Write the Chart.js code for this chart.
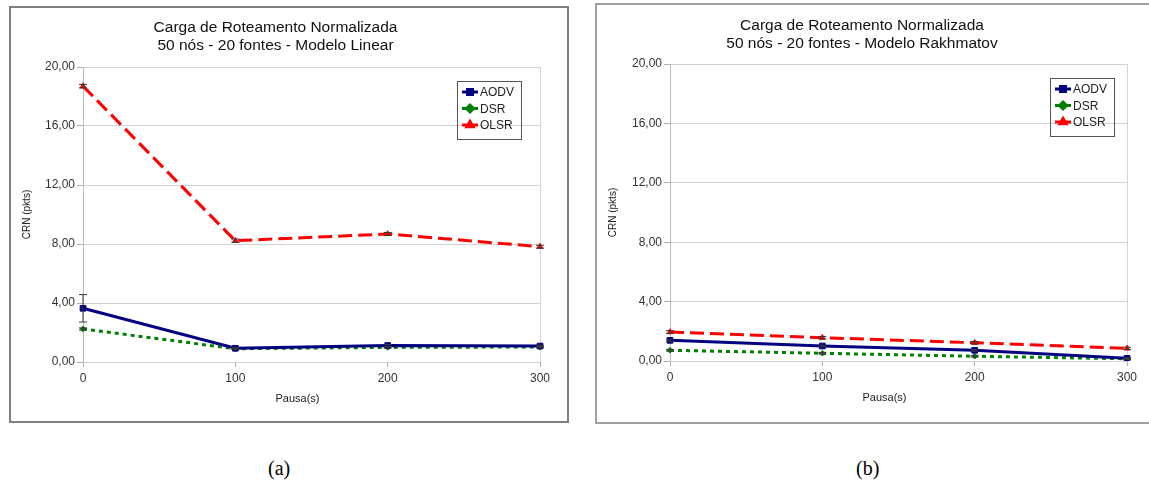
<!DOCTYPE html>
<html>
<head>
<meta charset="utf-8">
<script src="https://cdn.jsdelivr.net/npm/chart.js@4.4.1/dist/chart.umd.min.js"></script>
<style>
  body { margin: 0; background: #fff; width: 1149px; height: 491px; overflow: hidden; position: relative; }
  .box { position: absolute; box-sizing: border-box; background: #fff; }
  #boxA { left: 9px; top: 6px; width: 560px; height: 417px; border: 2px solid #808080; }
  #boxB { left: 595px; top: 3px; width: 570px; height: 421px; border: 2px solid #a0a0a0; }
  .box canvas { position: absolute; left: 0; top: 0; }
  .caption { position: absolute; top: 457px; font-family: "Liberation Serif", "Times New Roman", serif; font-size: 20px; color: #000; }
</style>
</head>
<body>
<div class="box" id="boxA"><canvas id="chartA" width="556" height="413"></canvas></div>
<div class="box" id="boxB"><canvas id="chartB" width="552" height="417"></canvas></div>
<div class="caption" style="left:268px">(a)</div>
<div class="caption" style="left:856px">(b)</div>
<script>
const pauseLabels = ['0', '100', '200', '300'];
const seriesNames = ['AODV', 'DSR', 'OLSR'];

// (a) Modelo Linear
const aodvLinear = [3.64, 0.93, 1.12, 1.08];
const dsrLinear = [2.24, 0.90, 0.99, 1.02];
const olsrLinear = [18.70, 8.22, 8.68, 7.82];
const aodvLinearErr = [0.93, 0.06, 0.07, 0.06];
const dsrLinearErr = [0.07, 0.05, 0.05, 0.05];
const olsrLinearErr = [0.12, 0.12, 0.10, 0.10];

// (b) Modelo Rakhmatov
const aodvRakh = [1.39, 1.01, 0.72, 0.18];
const dsrRakh = [0.72, 0.52, 0.32, 0.15];
const olsrRakh = [1.95, 1.57, 1.23, 0.85];
const aodvRakhErr = [0.07, 0.06, 0.06, 0.05];
const dsrRakhErr = [0.06, 0.05, 0.05, 0.05];
const olsrRakhErr = [0.09, 0.08, 0.08, 0.08];

const titleLine1 = 'Carga de Roteamento Normalizada';
const yTitle = 'CRN (pkts)';
const xTitle = 'Pausa(s)';
const yMin = 0, yMax = 20, yStep = 4;

const FONT = '"Liberation Sans", Arial, sans-serif';
const colors = ['#000080', '#008000', '#ff0000'];

const extras = {
    id: 'extras',
    afterDatasetsDraw(chart) {
        const ctx = chart.ctx;
        const y = chart.scales.y;
        ctx.save();
        ctx.strokeStyle = '#3a3a3a';
        ctx.lineWidth = 1;
        chart.data.datasets.forEach((ds, i) => {
            const meta = chart.getDatasetMeta(i);
            ds.errors.forEach((e, j) => {
                const px = meta.data[j].x;
                const t = y.getPixelForValue(ds.data[j] + e);
                const b = y.getPixelForValue(ds.data[j] - e);
                ctx.beginPath();
                ctx.moveTo(px, t); ctx.lineTo(px, b);
                ctx.moveTo(px - 4, t); ctx.lineTo(px + 4, t);
                ctx.moveTo(px - 4, b); ctx.lineTo(px + 4, b);
                ctx.stroke();
            });
        });
        ctx.restore();
    },
    afterDraw(chart, args, opts) {
        const ctx = chart.ctx;
        const area = chart.chartArea;
        ctx.save();
        // x axis title
        ctx.fillStyle = '#222';
        ctx.font = '11px ' + FONT;
        ctx.textAlign = 'center';
        ctx.textBaseline = 'middle';
        ctx.fillText(xTitle, (area.left + area.right) / 2 - 14, opts.xTitleY);
        // legend
        const lx = area.right - opts.legendRight;
        const ly = area.top + opts.legendTop;
        ctx.strokeStyle = '#555';
        ctx.lineWidth = 1;
        ctx.strokeRect(lx + 0.5, ly + 0.5, 64, 58);
        ctx.font = '12px ' + FONT;
        ctx.textAlign = 'left';
        chart.data.datasets.forEach((ds, i) => {
            const ry = ly + 11 + i * 16.5;
            ctx.strokeStyle = ds.borderColor;
            ctx.lineWidth = 3;
            ctx.beginPath();
            ctx.moveTo(lx + 5, ry); ctx.lineTo(lx + 21, ry);
            ctx.stroke();
            ctx.fillStyle = ds.borderColor;
            Chart.helpers.drawPoint(ctx, { pointStyle: ds.pointStyle, radius: 3.5, borderWidth: 1 }, lx + 13, ry);
            ctx.fillStyle = '#222';
            ctx.fillText(ds.label, lx + 23, ry + 1);
        });
        ctx.restore();
    }
};

function makeDatasets(aodv, dsr, olsr, errs) {
    const values = [aodv, dsr, olsr];
    const dashes = [[], [4, 4], [14, 6]];
    const styles = ['rect', 'rectRot', 'triangle'];
    const radii = [4, 2.8, 3.3];
    return seriesNames.map((name, i) => ({
        label: name,
        data: values[i],
        errors: errs[i],
        borderColor: colors[i],
        backgroundColor: colors[i],
        borderWidth: 3,
        borderDash: dashes[i],
        pointStyle: styles[i],
        pointRadius: radii[i],
        pointBorderWidth: 1,
        pointBorderColor: colors[i],
        pointBackgroundColor: colors[i],
        tension: 0
    }));
}

function makeChart(id, subtitle, datasets, lay) {
    const ctx = document.getElementById(id).getContext('2d');
    return new Chart(ctx, {
        type: 'line',
        data: { labels: pauseLabels, datasets: datasets },
        plugins: [extras],
        options: {
            responsive: false,
            animation: false,
            devicePixelRatio: 1,
            layout: { padding: { left: 0, top: 0, right: lay.padRight, bottom: 0 } },
            plugins: {
                legend: { display: false },
                tooltip: { enabled: false },
                title: {
                    display: true,
                    text: [titleLine1, subtitle],
                    color: '#111',
                    font: { family: FONT, size: 15.5, weight: 'normal', lineHeight: 1.2 },
                    padding: { top: lay.titleTop, bottom: lay.titleBottom }
                },
                extras: { legendRight: lay.legendRight, legendTop: 14, xTitleY: lay.xTitleY }
            },
            scales: {
                x: {
                    offset: false,
                    afterFit: s => { s.height = lay.xHeight; },
                    grid: {
                        color: c => c.index === pauseLabels.length - 1 ? '#d3d3d3' : 'rgba(0,0,0,0)',
                        tickColor: '#b0b0b0',
                        tickLength: 5
                    },
                    border: { display: false },
                    ticks: { color: '#333', font: { family: FONT, size: 12 }, padding: 4, maxRotation: 0 }
                },
                y: {
                    min: yMin,
                    max: yMax,
                    afterFit: s => { s.width = lay.yWidth; },
                    grid: { color: '#d3d3d3', tickColor: '#b0b0b0', tickLength: 6 },
                    border: { color: '#bdbdbd' },
                    title: {
                        display: true,
                        text: yTitle,
                        color: '#222',
                        font: { family: FONT, size: 10 },
                        padding: { top: 10, bottom: 0 }
                    },
                    ticks: {
                        stepSize: yStep,
                        color: '#333',
                        font: { family: FONT, size: 12 },
                        padding: 2,
                        callback: v => v.toFixed(2).replace('.', ',')
                    }
                }
            }
        }
    });
}

makeChart('chartA', '50 nós - 20 fontes - Modelo Linear',
    makeDatasets(aodvLinear, dsrLinear, olsrLinear, [aodvLinearErr, dsrLinearErr, olsrLinearErr]),
    { padRight: 27, titleTop: 10, titleBottom: 11.8, xHeight: 59, yWidth: 72, legendRight: 83, xTitleY: 391 });

makeChart('chartB', '50 nós - 20 fontes - Modelo Rakhmatov',
    makeDatasets(aodvRakh, dsrRakh, olsrRakh, [aodvRakhErr, dsrRakhErr, olsrRakhErr]),
    { padRight: 22, titleTop: 11, titleBottom: 10.8, xHeight: 61, yWidth: 73, legendRight: 77, xTitleY: 393 });
</script>
</body>
</html>
